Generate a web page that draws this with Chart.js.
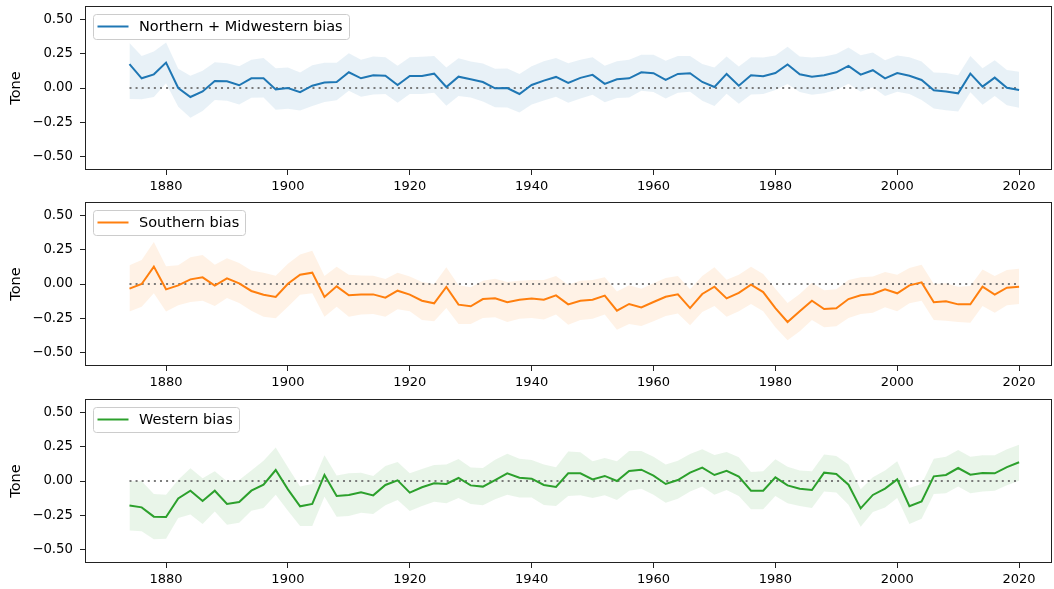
<!DOCTYPE html>
<html>
<head>
<meta charset="utf-8">
<title>Regional tone bias</title>
<script src="https://cdn.jsdelivr.net/npm/chart.js@4.4.1/dist/chart.umd.min.js"></script>
<style>
  html, body { margin: 0; padding: 0; background: #fff; }
  canvas.panel { position: absolute; left: 0; }
</style>
</head>
<body>
<canvas id="north" class="panel" width="1054" height="196" style="top:0px"></canvas>
<canvas id="south" class="panel" width="1054" height="196" style="top:196px"></canvas>
<canvas id="west" class="panel" width="1054" height="196" style="top:393px"></canvas>
<script>
// survey years, every second year
const years = [1874, 1876, 1878, 1880, 1882, 1884, 1886, 1888, 1890, 1892, 1894, 1896,
  1898, 1900, 1902, 1904, 1906, 1908, 1910, 1912, 1914, 1916, 1918, 1920,
  1922, 1924, 1926, 1928, 1930, 1932, 1934, 1936, 1938, 1940, 1942, 1944,
  1946, 1948, 1950, 1952, 1954, 1956, 1958, 1960, 1962, 1964, 1966, 1968,
  1970, 1972, 1974, 1976, 1978, 1980, 1982, 1984, 1986, 1988, 1990, 1992,
  1994, 1996, 1998, 2000, 2002, 2004, 2006, 2008, 2010, 2012, 2014, 2016,
  2018, 2020];

// Northern + Midwestern
const northTone = [0.174, 0.071, 0.10, 0.186, 0.0, -0.066, -0.025, 0.051, 0.049, 0.02, 0.071, 0.071,
  -0.01, 0.0, -0.03, 0.017, 0.04, 0.044, 0.115, 0.071, 0.093, 0.09, 0.022, 0.088,
  0.088, 0.105, 0.007, 0.083, 0.064, 0.044, -0.002, 0.0, -0.044, 0.022, 0.054, 0.081,
  0.037, 0.074, 0.096, 0.03, 0.064, 0.071, 0.115, 0.108, 0.059, 0.103, 0.108, 0.044,
  0.007, 0.103, 0.017, 0.093, 0.086, 0.11, 0.172, 0.10, 0.083, 0.093, 0.115, 0.162,
  0.098, 0.13, 0.071, 0.11, 0.09, 0.059, -0.017, -0.025, -0.039, 0.105, 0.01, 0.076,
  0.002, -0.015];
const northHigh = [0.33, 0.235, 0.267, 0.333, 0.14, 0.09, 0.127, 0.189, 0.181, 0.159, 0.206, 0.22,
  0.145, 0.15, 0.113, 0.167, 0.184, 0.184, 0.255, 0.206, 0.23, 0.225, 0.162, 0.225,
  0.228, 0.235, 0.15, 0.218, 0.194, 0.179, 0.14, 0.142, 0.103, 0.159, 0.196, 0.22,
  0.181, 0.206, 0.225, 0.162, 0.196, 0.206, 0.243, 0.243, 0.2, 0.235, 0.235, 0.176,
  0.15, 0.23, 0.157, 0.225, 0.223, 0.238, 0.301, 0.23, 0.223, 0.23, 0.248, 0.297,
  0.24, 0.26, 0.203, 0.238, 0.225, 0.194, 0.113, 0.11, 0.093, 0.235, 0.145, 0.203,
  0.132, 0.118];
const northLow = [-0.08, -0.083, -0.066, 0.034, -0.137, -0.218, -0.169, -0.088, -0.093, -0.12, -0.071, -0.069,
  -0.16, -0.152, -0.164, -0.132, -0.103, -0.09, -0.02, -0.064, -0.047, -0.044, -0.108, -0.044,
  -0.044, -0.034, -0.13, -0.059, -0.069, -0.098, -0.14, -0.142, -0.179, -0.12, -0.091, -0.064,
  -0.108, -0.076, -0.049, -0.105, -0.074, -0.069, -0.02, -0.029, -0.076, -0.034, -0.027, -0.093,
  -0.132, -0.042, -0.115, -0.047, -0.044, -0.015, 0.029, -0.029, -0.049, -0.039, -0.015, 0.032,
  -0.027, 0.005, -0.059, -0.027, -0.044, -0.088, -0.15, -0.162, -0.172, -0.032, -0.123, -0.059,
  -0.127, -0.145];

// Southern
const southTone = [-0.034, 0.0, 0.127, -0.039, -0.01, 0.034, 0.049, -0.012, 0.041, 0.005, -0.051, -0.078,
  -0.095, 0.002, 0.068, 0.083, -0.095, -0.017, -0.083, -0.076, -0.076, -0.1, -0.049, -0.078,
  -0.122, -0.141, -0.022, -0.151, -0.163, -0.11, -0.105, -0.134, -0.115, -0.107, -0.115, -0.083,
  -0.149, -0.122, -0.115, -0.085, -0.195, -0.146, -0.171, -0.132, -0.093, -0.076, -0.176, -0.073,
  -0.02, -0.105, -0.065, -0.005, -0.059, -0.176, -0.278, -0.2, -0.122, -0.183, -0.178, -0.11,
  -0.083, -0.073, -0.039, -0.068, -0.01, 0.012, -0.134, -0.127, -0.149, -0.149, -0.02, -0.078,
  -0.027, -0.02];
const southHigh = [0.137, 0.176, 0.307, 0.129, 0.137, 0.195, 0.212, 0.141, 0.188, 0.154, 0.098, 0.083,
  0.061, 0.149, 0.215, 0.244, 0.059, 0.127, 0.068, 0.063, 0.061, 0.037, 0.083, 0.054,
  0.015, 0.0, 0.122, -0.01, -0.024, 0.024, 0.039, 0.015, 0.024, 0.029, 0.029, 0.059,
  -0.005, 0.024, 0.029, 0.049, -0.054, -0.01, -0.034, 0.005, 0.044, 0.059, -0.039, 0.059,
  0.122, 0.032, 0.068, 0.127, 0.073, -0.034, -0.139, -0.073, 0.01, -0.046, -0.039, 0.029,
  0.049, 0.054, 0.088, 0.068, 0.117, 0.141, 0.0, 0.005, -0.02, -0.015, 0.107, 0.059,
  0.102, 0.112];
const southLow = [-0.202, -0.166, -0.068, -0.202, -0.156, -0.132, -0.122, -0.161, -0.102, -0.139, -0.195, -0.239,
  -0.251, -0.166, -0.078, -0.068, -0.239, -0.166, -0.239, -0.224, -0.22, -0.239, -0.185, -0.2,
  -0.263, -0.273, -0.176, -0.293, -0.293, -0.249, -0.244, -0.278, -0.254, -0.249, -0.259, -0.224,
  -0.298, -0.263, -0.254, -0.224, -0.334, -0.293, -0.307, -0.273, -0.234, -0.215, -0.302, -0.205,
  -0.161, -0.239, -0.2, -0.146, -0.2, -0.317, -0.412, -0.346, -0.263, -0.317, -0.31, -0.249,
  -0.22, -0.21, -0.171, -0.2, -0.141, -0.122, -0.263, -0.268, -0.278, -0.283, -0.161, -0.21,
  -0.156, -0.146];

// Western
const westTone = [-0.18, -0.193, -0.261, -0.263, -0.127, -0.071, -0.146, -0.071, -0.168, -0.154, -0.071, -0.027,
  0.08, -0.061, -0.185, -0.168, 0.044, -0.11, -0.102, -0.083, -0.105, -0.029, 0.005, -0.085,
  -0.046, -0.017, -0.022, 0.022, -0.032, -0.041, 0.007, 0.056, 0.024, 0.017, -0.029, -0.044,
  0.056, 0.056, 0.012, 0.037, 0.0, 0.073, 0.083, 0.039, -0.022, 0.007, 0.061, 0.098,
  0.044, 0.075, 0.032, -0.071, -0.071, 0.027, -0.032, -0.056, -0.066, 0.061, 0.051, -0.027,
  -0.2, -0.102, -0.056, 0.012, -0.185, -0.149, 0.034, 0.044, 0.095, 0.046, 0.059, 0.056,
  0.102, 0.137];
const westHigh = [0.0, -0.002, -0.095, -0.1, 0.01, 0.093, 0.02, 0.071, -0.002, 0.007, 0.076, 0.149,
  0.246, 0.1, -0.041, -0.022, 0.188, 0.041, 0.056, 0.061, 0.037, 0.11, 0.139, 0.056,
  0.088, 0.117, 0.12, 0.161, 0.098, 0.095, 0.156, 0.2, 0.163, 0.154, 0.12, 0.1,
  0.215, 0.21, 0.144, 0.168, 0.144, 0.22, 0.22, 0.178, 0.12, 0.149, 0.198, 0.232,
  0.19, 0.212, 0.173, 0.066, 0.071, 0.159, 0.105, 0.076, 0.071, 0.193, 0.183, 0.12,
  -0.061, 0.027, 0.076, 0.144, -0.051, -0.022, 0.163, 0.178, 0.227, 0.178, 0.188, 0.188,
  0.232, 0.266];
const westLow = [-0.363, -0.368, -0.427, -0.422, -0.271, -0.246, -0.315, -0.224, -0.32, -0.305, -0.217, -0.198,
  -0.1, -0.217, -0.329, -0.329, -0.115, -0.261, -0.256, -0.232, -0.241, -0.178, -0.139, -0.22,
  -0.183, -0.151, -0.163, -0.124, -0.168, -0.178, -0.134, -0.1, -0.12, -0.12, -0.176, -0.183,
  -0.11, -0.105, -0.124, -0.105, -0.139, -0.071, -0.056, -0.1, -0.159, -0.129, -0.076, -0.041,
  -0.1, -0.066, -0.11, -0.207, -0.207, -0.11, -0.163, -0.183, -0.198, -0.076, -0.085, -0.173,
  -0.334, -0.227, -0.193, -0.124, -0.315, -0.276, -0.095, -0.09, -0.041, -0.09, -0.076, -0.071,
  -0.032, 0.002];

const yTicks = [-0.5, -0.25, 0, 0.25, 0.5];
const xTicks = [1880, 1900, 1920, 1940, 1960, 1980, 2000, 2020];

const FONT = '"DejaVu Sans", sans-serif';

// closed box around the plot area, like a full set of spines
const frame = {
  id: 'frame',
  afterDraw(chart) {
    const { ctx, chartArea: a } = chart;
    ctx.save();
    ctx.strokeStyle = '#222';
    ctx.lineWidth = 1;
    const l = Math.round(a.left) + 0.5, t = Math.round(a.top) + 0.5;
    const r = Math.round(a.right) - 0.5, b = Math.round(a.bottom) - 0.5;
    ctx.strokeRect(l, t, r - l, b - t);
    ctx.restore();
  }
};

// single-entry legend in a rounded box, top left of the plot
const boxLegend = {
  id: 'boxLegend',
  afterDraw(chart, args, opts) {
    const { ctx, chartArea } = chart;
    ctx.save();
    ctx.font = '14.5px ' + FONT;
    const textW = ctx.measureText(opts.text).width;
    const x = Math.round(chartArea.left) + 8.5;
    const y = Math.round(chartArea.top) + 8.5;
    const w = Math.round(textW) + 52, h = 25;
    ctx.beginPath();
    ctx.roundRect(x, y, w, h, 3);
    ctx.fillStyle = 'rgba(255,255,255,0.8)';
    ctx.fill();
    ctx.strokeStyle = '#cccccc';
    ctx.lineWidth = 1;
    ctx.stroke();
    ctx.beginPath();
    ctx.moveTo(x + 4, y + 12);
    ctx.lineTo(x + 35, y + 12);
    ctx.strokeStyle = opts.color;
    ctx.lineWidth = 2;
    ctx.stroke();
    ctx.fillStyle = '#000';
    ctx.textBaseline = 'middle';
    ctx.fillText(opts.text, x + 45.5, y + 12.5);
    ctx.restore();
  }
};

function points(vals) {
  return years.map((yr, i) => ({ x: yr, y: vals[i] }));
}

function fmtTone(v) {
  return (v < 0 ? '\u2212' : '') + Math.abs(v).toFixed(2);
}

function makePanel(id, label, color, band, tone, low, high) {
  const ctx = document.getElementById(id).getContext('2d');
  return new Chart(ctx, {
    type: 'line',
    data: {
      datasets: [
        {
          label: label,
          data: points(tone),
          borderColor: color,
          borderWidth: 2,
          pointRadius: 0,
          tension: 0,
          fill: false
        },
        {
          label: 'zero',
          data: [{ x: years[0], y: 0 }, { x: years[years.length - 1], y: 0 }],
          borderColor: 'rgba(110,110,110,0.9)',
          borderWidth: 2,
          borderDash: [2, 4.1],
          pointRadius: 0,
          fill: false
        },
        {
          label: 'upper',
          data: points(high),
          borderColor: 'transparent',
          backgroundColor: band,
          pointRadius: 0,
          tension: 0,
          fill: '+1'
        },
        {
          label: 'lower',
          data: points(low),
          borderColor: 'transparent',
          pointRadius: 0,
          tension: 0,
          fill: false
        }
      ]
    },
    options: {
      responsive: false,
      animation: false,
      devicePixelRatio: 1,
      events: [],
      layout: { padding: { left: 0, right: 2, top: 6, bottom: 0 } },
      plugins: {
        legend: { display: false },
        tooltip: { enabled: false },
        boxLegend: { text: label, color: color }
      },
      scales: {
        x: {
          type: 'linear',
          min: 1866.7,
          max: 2025.4,
          afterBuildTicks: function(scale) {
            scale.ticks = xTicks.map(v => ({ value: v }));
          },
          afterFit: function(scale) {
            scale.height = 26;
            scale.paddingLeft = 0;
            scale.paddingRight = 0;
          },
          border: { display: false },
          grid: { drawOnChartArea: false, drawTicks: true, tickLength: 5, tickWidth: 1, tickColor: '#222' },
          ticks: {
            color: '#000',
            font: { family: FONT, size: 13 },
            padding: 4,
            maxRotation: 0,
            callback: v => String(v)
          }
        },
        y: {
          min: -0.6,
          max: 0.6,
          afterBuildTicks: function(scale) {
            scale.ticks = yTicks.map(v => ({ value: v }));
          },
          afterFit: function(scale) {
            scale.width = 85;
            scale.paddingTop = 0;
            scale.paddingBottom = 0;
          },
          border: { display: false },
          grid: { drawOnChartArea: false, drawTicks: true, tickLength: 5, tickWidth: 1, tickColor: '#222' },
          ticks: {
            color: '#000',
            font: { family: FONT, size: 13.3 },
            padding: 7,
            callback: v => fmtTone(v)
          },
          title: {
            display: true,
            text: 'Tone',
            color: '#000',
            font: { family: FONT, size: 14.5 },
            padding: { top: 8, bottom: 0 }
          }
        }
      }
    },
    plugins: [frame, boxLegend]
  });
}

makePanel('north', 'Northern + Midwestern bias', '#1f77b4', 'rgba(31,119,180,0.1)', northTone, northLow, northHigh);
makePanel('south', 'Southern bias', '#ff7f0e', 'rgba(255,127,14,0.1)', southTone, southLow, southHigh);
makePanel('west', 'Western bias', '#2ca02c', 'rgba(44,160,44,0.1)', westTone, westLow, westHigh);
</script>
</body>
</html>
